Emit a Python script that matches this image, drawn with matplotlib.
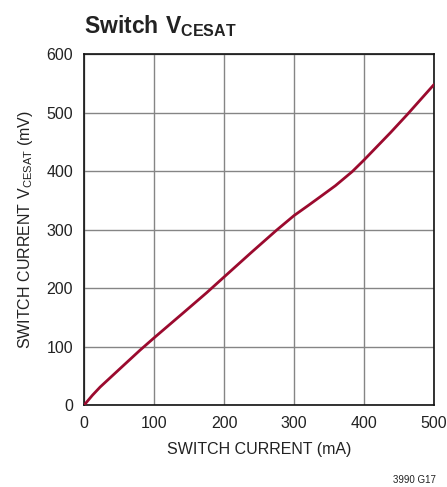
import matplotlib
matplotlib.use("Agg")
import matplotlib.pyplot as plt

# curve
current_ma = [0, 12, 23, 51, 80, 100, 142, 175, 200, 239, 275, 300, 320, 335, 359, 383, 400, 438, 462, 500]
vcesat_mv = [0, 17, 31, 62, 94, 115, 158, 192, 219, 261, 299, 324, 341, 354, 375, 399, 419, 466, 497, 548]

x_ticks = [0, 100, 200, 300, 400, 500]
y_ticks = [0, 100, 200, 300, 400, 500, 600]

plt.rcParams['font.family'] = ['Liberation Sans', 'DejaVu Sans']
plt.rcParams['mathtext.fontset'] = 'custom'
plt.rcParams['mathtext.rm'] = 'Liberation Sans'
plt.rcParams['mathtext.bf'] = 'Liberation Sans:bold'

fig = plt.figure(figsize=(4.47, 4.87), dpi=100)
ax = fig.add_axes([0.188, 0.168, 0.783, 0.721])

ax.plot(current_ma, vcesat_mv, color='#9b0a2e', lw=2.0, solid_capstyle='round',
        solid_joinstyle='round', zorder=3)

ax.set_xlim(0, 500)
ax.set_ylim(0, 600)
ax.set_xticks(x_ticks)
ax.set_yticks(y_ticks)
ax.tick_params(length=0, labelsize=11.5, colors='#222222')
ax.tick_params(axis='x', pad=8)
ax.tick_params(axis='y', pad=8)
ax.grid(True, color='#858585', lw=1.0)
for s in ax.spines.values():
    s.set_color('#111111')
    s.set_linewidth(1.2)

ax.set_xlabel('SWITCH CURRENT (mA)', fontsize=11.5, color='#222222', labelpad=8)
ax.set_ylabel(r'SWITCH CURRENT V$_{\mathrm{CESAT}}$ (mV)', fontsize=11.5, color='#222222', labelpad=8)

fig.text(0.188, 0.932, r'$\mathbf{Switch\ V_{CESAT}}$', fontsize=16.5, color='#222222', va='baseline')
fig.text(0.975, 0.004, '3990 G17', fontsize=7, color='#222222', ha='right', va='bottom')

fig.savefig('out.png', dpi=100)
